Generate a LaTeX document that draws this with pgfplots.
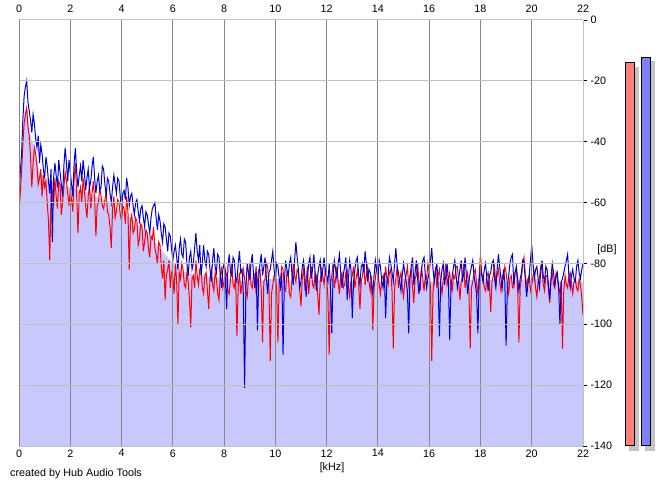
\documentclass[border=0pt]{standalone}
\usepackage{fontspec}
\setmainfont{Liberation Sans}
\usepackage{pgfplots}
\usepackage{pgfplotstable}
\pgfplotsset{compat=1.18}
\definecolor{lav}{RGB}{200,200,255}
\definecolor{lred}{RGB}{255,0,0}
\definecolor{lblue}{RGB}{0,0,215}
\definecolor{vgrid}{RGB}{136,136,136}
\definecolor{hgrid}{RGB}{192,192,192}
\definecolor{rbar}{RGB}{255,128,128}
\definecolor{bbar}{RGB}{128,128,255}
\definecolor{shad}{RGB}{196,196,196}

\pgfplotstableread{
x b r
0.00 -58 -63
0.05 -50 -57
0.10 -44 -50
0.15 -33 -41
0.20 -25 -34
0.25 -22 -31
0.30 -20 -29
0.35 -27 -35
0.40 -30 -38
0.45 -33 -45
0.50 -37 -55
0.55 -31 -47
0.60 -34 -42
0.65 -39 -44
0.70 -42 -48
0.75 -38 -54
0.80 -47 -52
0.85 -41 -49
0.90 -44 -58
0.95 -49 -51
1.00 -52 -55
1.05 -45 -53
1.10 -48 -60
1.15 -53 -66
1.20 -57 -79
1.25 -49 -57
1.30 -73 -56
1.35 -52 -61
1.40 -47 -52
1.45 -51 -58
1.50 -55 -62
1.55 -46 -53
1.60 -50 -54
1.65 -54 -64
1.70 -58 -60
1.75 -48 -55
1.80 -42 -50
1.85 -47 -53
1.90 -53 -57
1.95 -46 -61
2.00 -50 -56
2.05 -54 -59
2.10 -58 -63
2.15 -47 -52
2.20 -42 -47
2.25 -50 -58
2.30 -55 -70
2.35 -51 -57
2.40 -48 -55
2.45 -53 -60
2.50 -46 -52
2.55 -50 -56
2.60 -56 -61
2.65 -52 -65
2.70 -49 -58
2.75 -55 -54
2.80 -53 -62
2.85 -48 -57
2.90 -45 -53
2.95 -52 -59
3.00 -57 -71
3.05 -53 -61
3.10 -51 -60
3.15 -56 -55
3.20 -55 -58
3.25 -48 -61
3.30 -49 -62
3.35 -54 -59
3.40 -58 -57
3.45 -52 -63
3.50 -53 -64
3.55 -57 -68
3.60 -60 -75
3.65 -55 -62
3.70 -51 -58
3.75 -54 -65
3.80 -57 -63
3.85 -52 -59
3.90 -53 -60
3.95 -58 -64
4.00 -62 -66
4.05 -57 -61
4.10 -56 -62
4.15 -59 -67
4.20 -52 -58
4.25 -55 -63
4.30 -61 -82
4.35 -58 -66
4.40 -57 -64
4.45 -61 -70
4.50 -64 -69
4.55 -60 -65
4.60 -59 -66
4.65 -63 -74
4.70 -66 -72
4.75 -62 -67
4.80 -61 -68
4.85 -65 -76
4.90 -68 -73
4.95 -63 -69
5.00 -64 -70
5.05 -67 -75
5.10 -70 -78
5.15 -65 -71
5.20 -62 -72
5.25 -61 -68
5.30 -60 -75
5.35 -65 -77
5.40 -69 -80
5.45 -64 -73
5.50 -66 -74
5.55 -70 -81
5.60 -73 -85
5.65 -67 -79
5.70 -68 -92
5.75 -72 -84
5.80 -76 -82
5.85 -70 -79
5.90 -71 -88
5.95 -75 -83
6.00 -79 -84
6.05 -76 -90
6.10 -74 -80
6.15 -78 -86
6.20 -82 -100
6.25 -75 -83
6.30 -72 -85
6.35 -77 -80
6.40 -78 -82
6.45 -72 -87
6.50 -73 -88
6.55 -80 -83
6.60 -84 -86
6.65 -78 -92
6.70 -76 -101
6.75 -82 -85
6.80 -80 -84
6.85 -75 -88
6.90 -70 -79
6.95 -76 -84
7.00 -79 -87
7.05 -74 -82
7.10 -84 -81
7.15 -80 -88
7.20 -74 -90
7.25 -79 -84
7.30 -81 -83
7.35 -76 -89
7.40 -77 -95
7.45 -82 -85
7.50 -86 -82
7.55 -79 -87
7.60 -75 -89
7.65 -81 -83
7.70 -83 -85
7.75 -77 -90
7.80 -78 -92
7.85 -84 -84
7.90 -88 -81
7.95 -82 -88
8.00 -80 -86
8.05 -85 -82
8.10 -95 -84
8.15 -81 -89
8.20 -77 -90
8.25 -83 -85
8.30 -84 -80
8.35 -78 -87
8.40 -79 -88
8.45 -85 -84
8.50 -86 -104
8.55 -80 -88
8.60 -76 -83
8.65 -83 -90
8.70 -82 -87
8.75 -90 -82
8.80 -121 -85
8.85 -88 -89
8.90 -80 -91
8.95 -83 -85
9.00 -85 -80
9.05 -80 -87
9.10 -77 -88
9.15 -84 -83
9.20 -88 -84
9.25 -81 -90
9.30 -102 -86
9.35 -85 -82
9.40 -80 -82
9.45 -77 -89
9.50 -84 -106
9.55 -81 -86
9.60 -78 -85
9.65 -85 -80
9.70 -90 -81
9.75 -83 -88
9.80 -82 -112
9.85 -79 -90
9.90 -76 -87
9.95 -82 -84
10.00 -86 -83
10.05 -80 -89
10.10 -81 -106
10.15 -85 -86
10.20 -88 -85
10.25 -83 -81
10.30 -110 -82
10.35 -86 -88
10.40 -79 -89
10.45 -82 -83
10.50 -84 -84
10.55 -80 -90
10.60 -78 -91
10.65 -84 -85
10.70 -87 -80
10.75 -79 -84
10.80 -73 -86
10.85 -78 -82
10.90 -82 -83
10.95 -88 -89
11.00 -86 -94
11.05 -81 -85
11.10 -79 -82
11.15 -84 -88
11.20 -91 -86
11.25 -85 -81
11.30 -80 -90
11.35 -78 -85
11.40 -85 -81
11.45 -82 -87
11.50 -77 -88
11.55 -83 -83
11.60 -89 -84
11.65 -84 -90
11.70 -81 -97
11.75 -79 -86
11.80 -86 -82
11.85 -82 -84
11.90 -78 -87
11.95 -83 -82
12.00 -84 -85
12.05 -86 -91
12.10 -80 -110
12.15 -88 -87
12.20 -103 -84
12.25 -84 -80
12.30 -79 -88
12.35 -82 -85
12.40 -85 -81
12.45 -80 -86
12.50 -77 -90
12.55 -83 -84
12.60 -88 -83
12.65 -84 -88
12.70 -81 -87
12.75 -78 -83
12.80 -92 -82
12.85 -85 -88
12.90 -79 -91
12.95 -82 -86
13.00 -98 -84
13.05 -86 -81
13.10 -82 -88
13.15 -79 -85
13.20 -78 -82
13.25 -84 -87
13.30 -87 -95
13.35 -81 -86
13.40 -80 -84
13.45 -83 -80
13.50 -76 -87
13.55 -80 -84
13.60 -86 -81
13.65 -82 -86
13.70 -83 -89
13.75 -87 -84
13.80 -90 -102
13.85 -84 -88
13.90 -79 -85
13.95 -82 -81
14.00 -85 -83
14.05 -79 -87
14.10 -81 -90
14.15 -86 -85
14.20 -88 -84
14.25 -83 -88
14.30 -98 -81
14.35 -86 -85
14.40 -84 -87
14.45 -78 -83
14.50 -80 -82
14.55 -83 -89
14.60 -86 -108
14.65 -80 -88
14.70 -75 -85
14.75 -81 -81
14.80 -83 -88
14.85 -86 -85
14.90 -89 -83
14.95 -84 -88
15.00 -80 -91
15.05 -83 -86
15.10 -86 -84
15.15 -89 -81
15.20 -103 -87
15.25 -85 -84
15.30 -81 -82
15.35 -78 -88
15.40 -87 -93
15.45 -83 -85
15.50 -79 -84
15.55 -85 -80
15.60 -90 -86
15.65 -86 -89
15.70 -82 -81
15.75 -79 -85
15.80 -78 -89
15.85 -84 -84
15.90 -88 -85
15.95 -85 -80
16.00 -83 -83
16.05 -79 -88
16.10 -75 -112
16.15 -82 -89
16.20 -86 -85
16.25 -83 -81
16.30 -80 -88
16.35 -87 -84
16.40 -104 -82
16.45 -86 -87
16.50 -82 -90
16.55 -80 -85
16.60 -87 -84
16.65 -84 -80
16.70 -80 -87
16.75 -86 -85
16.80 -105 -83
16.85 -88 -88
16.90 -84 -89
16.95 -81 -84
17.00 -79 -85
17.05 -84 -81
17.10 -88 -81
17.15 -85 -86
17.20 -82 -92
17.25 -79 -86
17.30 -86 -84
17.35 -83 -80
17.40 -78 -88
17.45 -84 -85
17.50 -90 -83
17.55 -86 -89
17.60 -83 -108
17.65 -81 -88
17.70 -79 -86
17.75 -84 -83
17.80 -87 -82
17.85 -90 -87
17.90 -103 -90
17.95 -86 -84
18.00 -81 -77
18.05 -84 -83
18.10 -86 -85
18.15 -82 -88
18.20 -80 -89
18.25 -85 -84
18.30 -89 -83
18.35 -84 -87
18.40 -83 -96
18.45 -80 -86
18.50 -79 -84
18.55 -85 -81
18.60 -88 -87
18.65 -82 -84
18.70 -77 -82
18.75 -81 -86
18.80 -85 -89
18.85 -88 -84
18.90 -82 -85
18.95 -86 -81
19.00 -107 -83
19.05 -88 -87
19.10 -84 -90
19.15 -80 -85
19.20 -78 -84
19.25 -77 -88
19.30 -87 -88
19.35 -83 -83
19.40 -81 -82
19.45 -85 -88
19.50 -89 -106
19.55 -85 -88
19.60 -83 -85
19.65 -79 -80
19.70 -80 -78
19.75 -85 -84
19.80 -91 -88
19.85 -87 -85
19.90 -84 -84
19.95 -79 -89
20.00 -74 -87
20.05 -80 -84
20.10 -85 -83
20.15 -82 -88
20.20 -81 -91
20.25 -85 -86
20.30 -88 -85
20.35 -83 -81
20.40 -79 -82
20.45 -84 -87
20.50 -86 -89
20.55 -81 -84
20.60 -82 -84
20.65 -87 -88
20.70 -92 -93
20.75 -85 -86
20.80 -80 -83
20.85 -83 -87
20.90 -87 -88
20.95 -84 -83
21.00 -83 -85
21.05 -88 -88
21.10 -100 -90
21.15 -86 -86
21.20 -85 -108
21.25 -83 -89
21.30 -81 -84
21.35 -79 -87
21.40 -77 -88
21.45 -84 -84
21.50 -88 -83
21.55 -84 -87
21.60 -82 -90
21.65 -85 -86
21.70 -86 -85
21.75 -81 -88
21.80 -79 -89
21.85 -83 -85
21.90 -85 -87
21.95 -82 -91
22.00 -80 -97
}\spec

\pgfplotstableread{
x f
0.0 -140
0.0 -62
0.1 -48
0.2 -32
0.3 -28
0.4 -36
0.5 -40
0.6 -41
0.7 -46
0.8 -50
1.0 -52
1.5 -54
2.0 -55
2.5 -56
3.0 -58
3.5 -60
4.0 -63
4.5 -66
5.0 -70
5.5 -75
6.0 -80
6.5 -83
7.0 -84
8.0 -85
9.0 -86
10.0 -85
11.0 -86
12.0 -85
13.0 -86
14.0 -86
15.0 -85
16.0 -86
17.0 -86
18.0 -85
19.0 -86
20.0 -85
21.0 -86
22.0 -86
22.0 -140
}\envtab

\begin{document}
\begin{tikzpicture}[font=\fontsize{10.8}{13}\selectfont]
\path[use as bounding box] (0,0) rectangle (665bp,487bp);

\begin{axis}[
  axis on top,
  at={(19bp,41bp)}, anchor=south west,
  scale only axis, width=564bp, height=426bp,
  xmin=0, xmax=22, ymin=-140, ymax=0,
  axis x line*=top, axis y line*=right,
  axis line style={draw=hgrid, line width=1bp},
  xtick={0,2,...,22},
  xticklabels={0,2,4,6,8,10,12,14,16,18,20,22},
  ytick={-140,-120,...,0},
  yticklabels={-140,-120,-100,-80,-60,-40,-20,0},
  xtick style={draw=none},
  ytick style={draw=black, line width=0.8bp},
  tick align=outside,
  major tick length=4bp,
  xmajorgrids, ymajorgrids,
  x grid style={draw=vgrid, line width=1bp},
  y grid style={draw=hgrid, line width=1bp},
  extra x ticks={0,10,20},
  extra x tick labels={},
  extra x tick style={grid style={draw=gray!95!black, line width=2.2bp}},
  ticklabel style={font=\fontsize{10.8}{13}\selectfont},
]
\addplot[fill=lav, draw=none] table[x=x,y=f]{\envtab};
\addplot[lred, line width=1bp] table[x=x,y=r]{\spec};
\addplot[lblue, line width=1bp] table[x=x,y=b]{\spec};
\end{axis}

\begin{axis}[
  at={(19bp,41bp)}, anchor=south west,
  scale only axis, width=564bp, height=426bp,
  xmin=0, xmax=22, ymin=-140, ymax=0,
  axis x line*=bottom, axis y line*=left,
  axis line style={draw=none},
  xtick={0,2,...,22},
  xticklabels={0,2,4,6,8,10,12,14,16,18,20,22},
  ytick=\empty,
  xtick style={draw=none},
  ticklabel style={font=\fontsize{10.8}{13}\selectfont},
]
\addplot[draw=none] coordinates {(1,-100) (2,-90)};
\end{axis}

\begin{axis}[
  at={(600bp,41bp)}, anchor=south west,
  scale only axis, width=65bp, height=426bp,
  xmin=600, xmax=665, ymin=-140, ymax=0,
  hide axis, clip=false,
]
\addplot[fill=shad, draw=none] coordinates {(629,-141.6) (639,-141.6) (639,-15.3) (629,-15.3)};
\addplot[fill=shad, draw=none] coordinates {(645,-141.6) (655,-141.6) (655,-13.5) (645,-13.5)};
\addplot[fill=rbar, draw=black, line width=1bp] coordinates {(625.5,-140) (634.5,-140) (634.5,-14.1) (625.5,-14.1) (625.5,-140)};
\addplot[fill=bbar, draw=black, line width=1bp] coordinates {(641.5,-140) (650.5,-140) (650.5,-12.2) (641.5,-12.2) (641.5,-140)};
\end{axis}

\node at (607bp,237bp) {[dB]};
\node at (332bp,19bp) {[kHz]};
\node[anchor=west, inner sep=0pt] at (10bp,13bp) {created by Hub Audio Tools};
\end{tikzpicture}
\end{document}
